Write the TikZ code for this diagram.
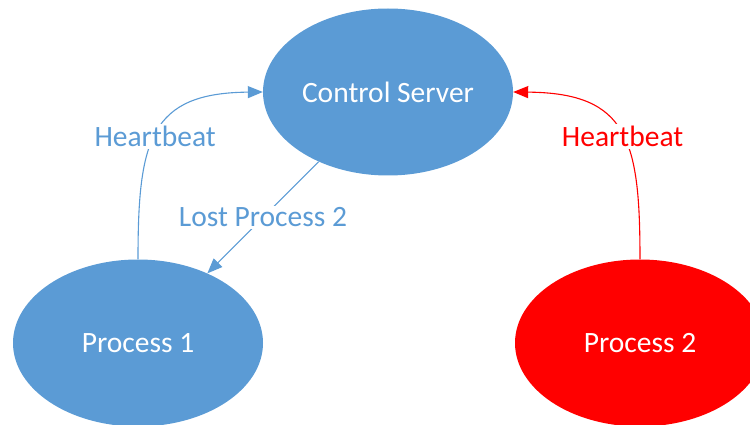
\documentclass[tikz,border=0pt]{standalone}
\usepackage{fontspec}
\setmainfont{Carlito}
\usetikzlibrary{shapes.geometric,arrows.meta}
\definecolor{officeblue}{HTML}{5B9BD5}
\definecolor{alertred}{HTML}{FF0000}
\tikzset{
	proc/.style={ellipse,minimum width=250pt,minimum height=167pt,inner sep=0pt,text=white,font=\fontsize{29.5}{34}\selectfont},
	beat/.style={line width=1.1pt,-{Triangle[length=15pt,width=12pt]}},
	tag/.style={fill=white,inner sep=2pt,font=\fontsize{29.5}{34}\selectfont}
}

\begin{document}
\begin{tikzpicture}[x=1pt,y=-1pt]
	\useasboundingbox (0,0) rectangle (750,425);
	\node[proc,fill=officeblue] (server) at (388,92) {Control Server};
	\node[proc,fill=officeblue] (proc1) at (138,343) {Process 1};
	\node[proc,fill=alertred] (proc2) at (640,343) {Process 2};
	
	\draw[beat,officeblue] (proc1.north) .. controls (138,140) and (150,93) .. (server.west) node[tag,text=officeblue,pos=0.47] (beat1) {Heartbeat};
	\draw[beat,alertred] (proc2.north) .. controls (640,140) and (628,93) .. (server.east) node[tag,text=alertred,pos=0.47] (beat2) {Heartbeat};
	
	\draw[beat,officeblue] (server) -- (proc1) node[tag,text=officeblue,midway] (lost) {Lost Process 2};
\end{tikzpicture}
\end{document}
